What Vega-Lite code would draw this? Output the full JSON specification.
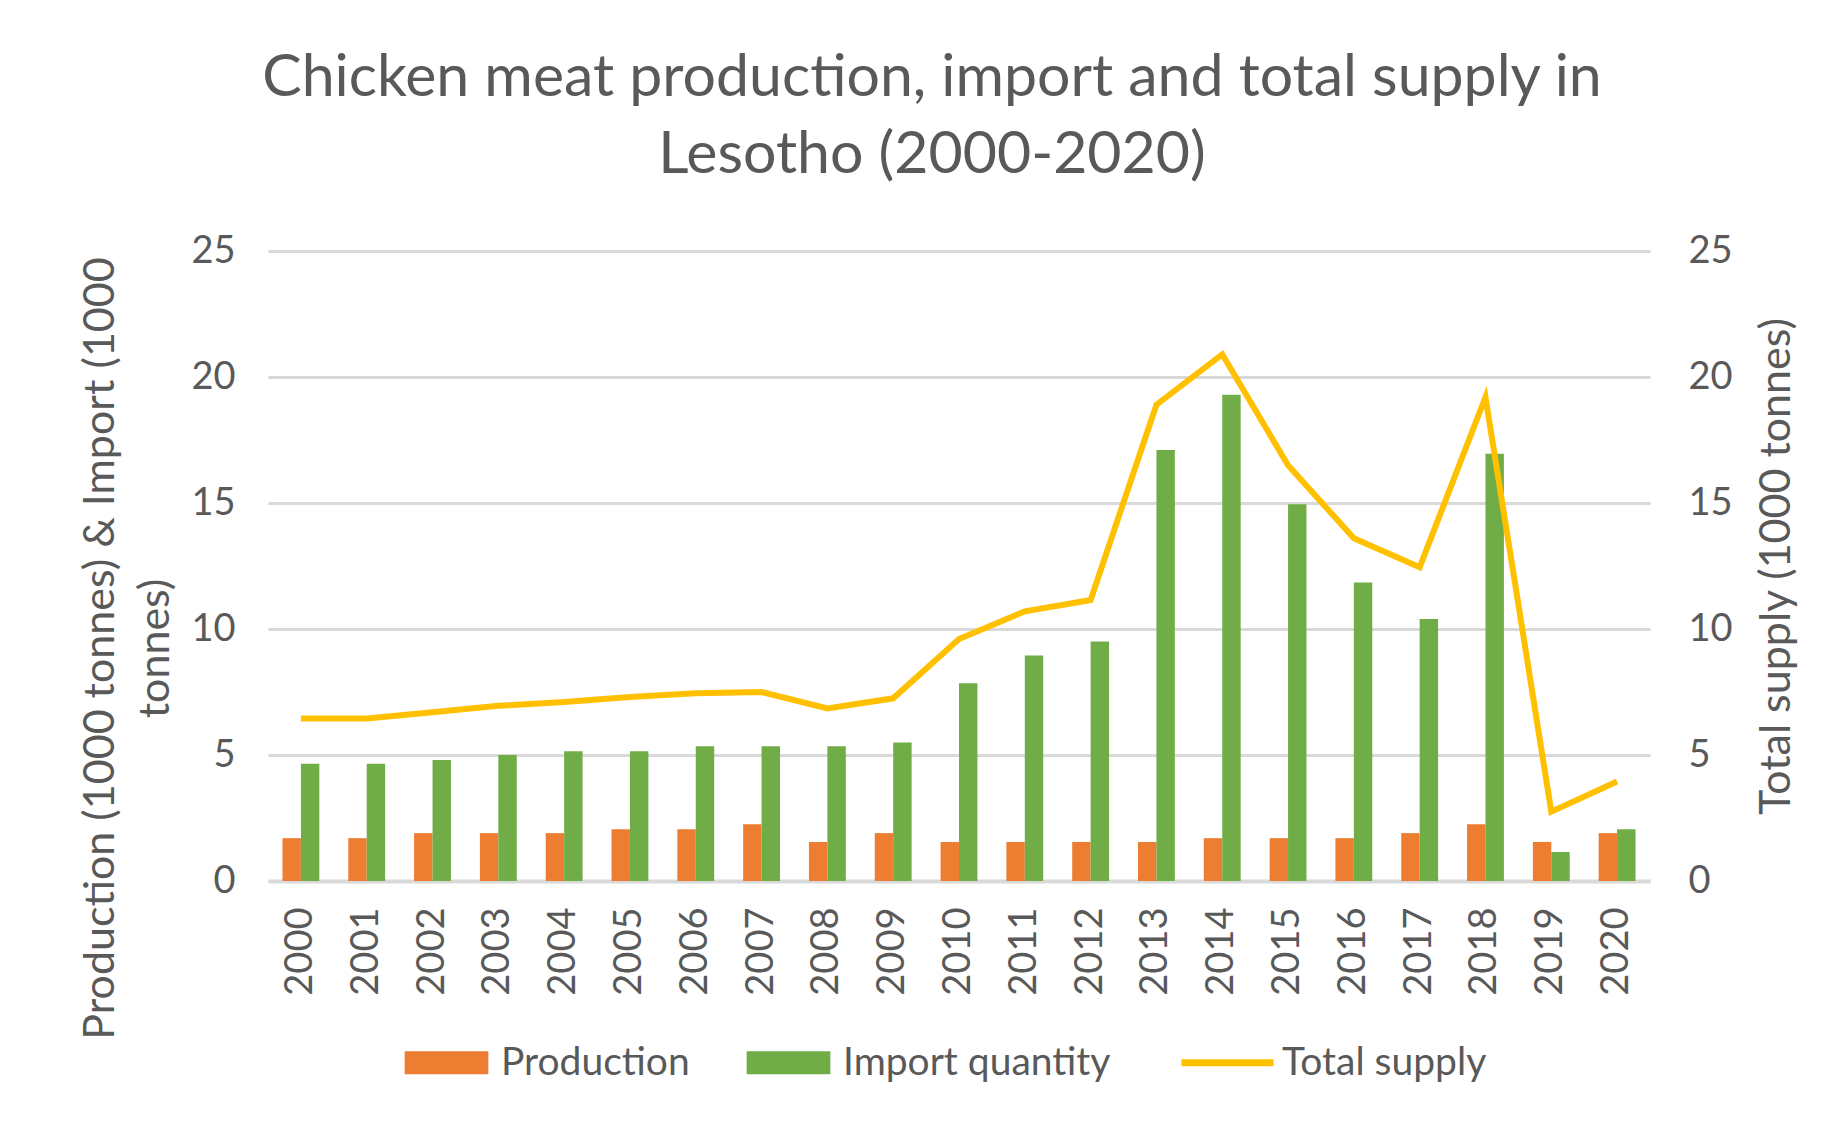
{
  "$schema": "https://vega.github.io/schema/vega-lite/v6.json",
  "width": 1382,
  "height": 630,
  "autosize": {"type": "none"},
  "padding": {"left": 268, "top": 251, "right": 191, "bottom": 243},
  "background": "white",
  "config": {
    "font": "Lato",
    "view": {"stroke": null},
    "axis": {"labelColor": "#595959", "titleColor": "#595959", "labelFontSize": 38, "titleFontSize": 43, "titleFontWeight": "normal", "ticks": false, "labelFont": "Lato", "titleFont": "Lato"},
    "legend": {"labelFont": "Lato"}
  },
  "title": {
    "text": ["Chicken meat production, import and total supply in", "Lesotho (2000-2020)"],
    "anchor": "middle",
    "font": "Lato",
    "fontSize": 59,
    "fontWeight": "normal",
    "color": "#595959",
    "lineHeight": 77,
    "baseline": "bottom",
    "dx": -27,
    "offset": -12
  },
  "datasets": {
    "bars": [
      {"year": "2000", "series": "Production", "value": 1.7}, {"year": "2000", "series": "Import quantity", "value": 4.65},
      {"year": "2001", "series": "Production", "value": 1.7}, {"year": "2001", "series": "Import quantity", "value": 4.65},
      {"year": "2002", "series": "Production", "value": 1.9}, {"year": "2002", "series": "Import quantity", "value": 4.8},
      {"year": "2003", "series": "Production", "value": 1.9}, {"year": "2003", "series": "Import quantity", "value": 5.0},
      {"year": "2004", "series": "Production", "value": 1.9}, {"year": "2004", "series": "Import quantity", "value": 5.15},
      {"year": "2005", "series": "Production", "value": 2.05}, {"year": "2005", "series": "Import quantity", "value": 5.15},
      {"year": "2006", "series": "Production", "value": 2.05}, {"year": "2006", "series": "Import quantity", "value": 5.35},
      {"year": "2007", "series": "Production", "value": 2.25}, {"year": "2007", "series": "Import quantity", "value": 5.35},
      {"year": "2008", "series": "Production", "value": 1.55}, {"year": "2008", "series": "Import quantity", "value": 5.35},
      {"year": "2009", "series": "Production", "value": 1.9}, {"year": "2009", "series": "Import quantity", "value": 5.5},
      {"year": "2010", "series": "Production", "value": 1.55}, {"year": "2010", "series": "Import quantity", "value": 7.85},
      {"year": "2011", "series": "Production", "value": 1.55}, {"year": "2011", "series": "Import quantity", "value": 8.95},
      {"year": "2012", "series": "Production", "value": 1.55}, {"year": "2012", "series": "Import quantity", "value": 9.5},
      {"year": "2013", "series": "Production", "value": 1.55}, {"year": "2013", "series": "Import quantity", "value": 17.1},
      {"year": "2014", "series": "Production", "value": 1.7}, {"year": "2014", "series": "Import quantity", "value": 19.3},
      {"year": "2015", "series": "Production", "value": 1.7}, {"year": "2015", "series": "Import quantity", "value": 14.95},
      {"year": "2016", "series": "Production", "value": 1.7}, {"year": "2016", "series": "Import quantity", "value": 11.85},
      {"year": "2017", "series": "Production", "value": 1.9}, {"year": "2017", "series": "Import quantity", "value": 10.4},
      {"year": "2018", "series": "Production", "value": 2.25}, {"year": "2018", "series": "Import quantity", "value": 16.95},
      {"year": "2019", "series": "Production", "value": 1.55}, {"year": "2019", "series": "Import quantity", "value": 1.15},
      {"year": "2020", "series": "Production", "value": 1.9}, {"year": "2020", "series": "Import quantity", "value": 2.05}
    ],
    "supply": [
      {"year": "2000", "series": "Total supply", "value": 6.45},
      {"year": "2001", "series": "Total supply", "value": 6.45},
      {"year": "2002", "series": "Total supply", "value": 6.7},
      {"year": "2003", "series": "Total supply", "value": 6.95},
      {"year": "2004", "series": "Total supply", "value": 7.1},
      {"year": "2005", "series": "Total supply", "value": 7.3},
      {"year": "2006", "series": "Total supply", "value": 7.45},
      {"year": "2007", "series": "Total supply", "value": 7.5},
      {"year": "2008", "series": "Total supply", "value": 6.85},
      {"year": "2009", "series": "Total supply", "value": 7.25},
      {"year": "2010", "series": "Total supply", "value": 9.6},
      {"year": "2011", "series": "Total supply", "value": 10.7},
      {"year": "2012", "series": "Total supply", "value": 11.15},
      {"year": "2013", "series": "Total supply", "value": 18.9},
      {"year": "2014", "series": "Total supply", "value": 20.9},
      {"year": "2015", "series": "Total supply", "value": 16.5},
      {"year": "2016", "series": "Total supply", "value": 13.6},
      {"year": "2017", "series": "Total supply", "value": 12.45},
      {"year": "2018", "series": "Total supply", "value": 19.2},
      {"year": "2019", "series": "Total supply", "value": 2.75},
      {"year": "2020", "series": "Total supply", "value": 3.95}
    ]
  },
  "encoding": {
    "x": {
      "field": "year", "type": "nominal",
      "scale": {"paddingInner": 0.44, "paddingOuter": 0.22},
      "axis": {"title": null, "labelAngle": -90, "labelPadding": 26, "domainColor": "#d9d9d9", "domainWidth": 4, "grid": false}
    }
  },
  "layer": [
    {
      "data": {"name": "bars"},
      "mark": {"type": "bar"},
      "encoding": {
        "xOffset": {"field": "series", "type": "nominal", "scale": {"domain": ["Production", "Import quantity"], "paddingInner": 0, "paddingOuter": 0}},
        "y": {
          "field": "value", "type": "quantitative",
          "scale": {"domain": [0, 25]},
          "axis": {
            "title": ["Production (1000 tonnes) & Import (1000", "tonnes)"],
            "values": [0, 5, 10, 15, 20, 25],
            "grid": true, "gridColor": "#d9d9d9", "gridWidth": 3,
            "domain": false, "labelPadding": 33,
            "titleLineHeight": 55, "titleBaseline": "middle", "titleAlign": "center", "titleAngle": -90,
            "titleX": -168, "titleY": 397
          }
        },
        "color": {
          "field": "series", "type": "nominal",
          "scale": {"domain": ["Production", "Import quantity", "Total supply"], "range": ["#ED7D31", "#70AD47", "#FFC000"]},
          "legend": {
            "orient": "none", "legendX": 159, "legendY": 792, "direction": "horizontal", "title": null,
            "labelFontSize": 39, "labelColor": "#595959", "labelLimit": 600, "symbolSize": 7000, "labelOffset": 35, "columnPadding": 56,
            "symbolType": "M-1,-0.277H1V0.277H-1Z",
            "encode": {
              "symbols": {
                "update": {
                  "shape": {"signal": "datum.value === 'Total supply' ? 'M-1.1,0H1.1' : 'M-1,-0.277H1V0.277H-1Z'"},
                  "fill": {"signal": "datum.value === 'Production' ? '#ED7D31' : datum.value === 'Import quantity' ? '#70AD47' : 'transparent'"},
                  "stroke": {"signal": "datum.value === 'Total supply' ? '#FFC000' : 'transparent'"},
                  "strokeWidth": {"signal": "datum.value === 'Total supply' ? 7 : 0"},
                  "opacity": {"value": 1},
                  "fillOpacity": {"value": 1},
                  "strokeOpacity": {"value": 1}
                }
              }
            }
          }
        }
      }
    },
    {
      "data": {"name": "supply"},
      "mark": {"type": "line", "strokeWidth": 6, "strokeJoin": "miter"},
      "encoding": {
        "y": {
          "field": "value", "type": "quantitative",
          "scale": {"domain": [0, 25]},
          "axis": {
            "orient": "right",
            "title": "Total supply (1000 tonnes)",
            "values": [0, 5, 10, 15, 20, 25],
            "grid": false, "domain": false, "labelPadding": 38,
            "titleAngle": -90, "titleBaseline": "middle", "titleAlign": "center",
            "titleX": 126, "titleY": 315
          }
        },
        "color": {"field": "series", "type": "nominal"}
      }
    }
  ],
  "resolve": {"scale": {"y": "independent"}}
}
